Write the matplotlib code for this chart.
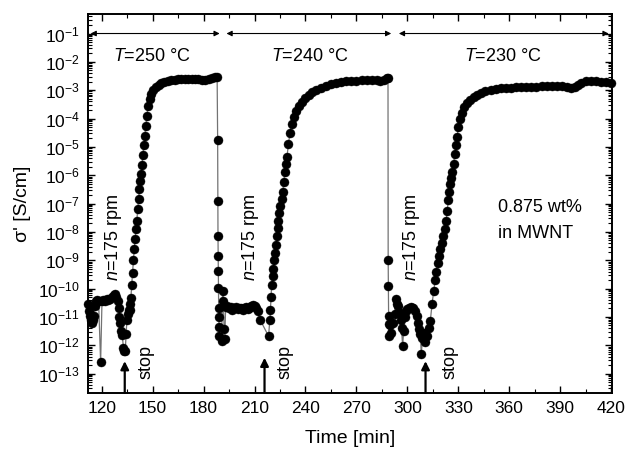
import numpy as np
import matplotlib
matplotlib.use('Agg')
import matplotlib.pyplot as plt
from matplotlib.ticker import MultipleLocator, LogLocator, NullFormatter, LogFormatterSciNotation

plt.rcParams['font.family'] = ['Liberation Sans', 'DejaVu Sans']
plt.rcParams['mathtext.fontset'] = 'custom'
plt.rcParams['mathtext.rm'] = 'Liberation Sans'
plt.rcParams['mathtext.it'] = 'Liberation Sans:italic'

# time [min] and log10(sigma' [S/cm])
# T = 250 C
t_250 = [112.0, 112.6, 113.2, 113.8, 114.4, 115.0, 115.6, 116.2, 116.8, 117.4, 118.2, 119.4,
         120.2, 121.0, 122.0, 123.0, 124.0, 125.0, 126.0, 127.0, 127.8, 128.6, 129.4, 130.0,
         130.5, 131.0, 131.6, 132.2, 132.8, 133.4, 133.9, 134.4, 134.9, 135.4, 135.9, 136.4,
         136.8, 137.2, 137.7, 138.2, 138.7, 139.2, 139.7, 140.2, 140.7, 141.2, 141.7, 142.2,
         142.7, 143.2, 143.7, 144.2, 144.8, 145.4, 146.0, 146.6, 147.3, 148.2, 149.3, 150.5,
         152.0, 153.5, 155.0, 157.0, 159.0, 161.0, 163.0, 165.0, 167.0, 169.0, 171.0, 173.0,
         175.0, 177.0, 179.0, 181.0, 183.0, 185.0, 186.5, 188.0]
lg_250 = [-10.55, -10.8, -10.95, -11.1, -11.2, -11.1, -10.95, -10.6, -10.45, -10.4, -10.45, -12.6,
          -10.45, -10.4, -10.42, -10.38, -10.4, -10.35, -10.3, -10.22, -10.2, -10.3, -10.45, -10.7,
          -11.0, -11.2, -11.5, -11.65, -12.1, -12.2, -12.2, -11.6, -11.1, -10.9, -10.75, -10.55,
          -10.74, -10.32, -9.86, -9.44, -9.0, -8.6, -8.25, -7.9, -7.6, -7.2, -6.85, -6.5,
          -6.2, -5.95, -5.65, -5.3, -4.95, -4.6, -4.25, -3.9, -3.55, -3.3, -3.12, -3.0,
          -2.88, -2.8, -2.74, -2.7, -2.67, -2.65, -2.63, -2.61, -2.6, -2.6, -2.6, -2.6,
          -2.61, -2.62, -2.63, -2.63, -2.62, -2.58, -2.55, -2.55]

# T = 240 C
t_240 = [188.3, 188.4, 188.5, 188.6, 188.7, 188.8, 188.9, 189.0, 189.1, 189.2, 190.6, 191.2,
         191.7, 192.1, 192.5, 193.0, 194.0, 195.0, 196.0, 197.0, 198.0, 199.0, 200.0, 201.0,
         202.0, 203.0, 204.0, 205.0, 206.0, 207.0, 208.0, 209.0, 210.0, 211.0, 212.0, 213.2,
         218.3, 219.0, 219.4, 219.7, 220.1, 220.6, 221.1, 221.6, 222.1, 222.6, 223.1, 223.6,
         224.1, 224.7, 225.3, 226.0, 226.6, 227.2, 227.8, 228.4, 229.1, 230.0, 230.9, 232.0,
         233.2, 234.5, 236.0, 238.0, 240.0, 242.0, 244.0, 246.5, 249.0, 252.0, 255.0, 258.0,
         261.0, 264.0, 267.0, 270.0, 273.0, 276.0, 279.0, 282.0, 284.0, 286.0, 288.0, 288.6]
lg_240 = [-4.75, -6.92, -8.15, -8.86, -9.39, -9.97, -10.67, -11.0, -11.37, -11.68, -11.85, -10.09,
          -10.44, -11.44, -11.79, -10.65, -10.62, -10.7, -10.66, -10.74, -10.7, -10.64, -10.72, -10.68,
          -10.7, -10.76, -10.7, -10.64, -10.72, -10.68, -10.62, -10.58, -10.6, -10.7, -10.78, -11.09,
          -11.68, -11.09, -10.76, -10.31, -9.86, -9.55, -9.3, -9.0, -8.73, -8.45, -8.15, -7.85,
          -7.6, -7.35, -7.1, -6.85, -6.6, -6.25, -5.9, -5.6, -5.35, -4.9, -4.5, -4.2,
          -3.95, -3.75, -3.57, -3.42, -3.28, -3.17, -3.08, -2.98, -2.92, -2.85, -2.78, -2.74,
          -2.71, -2.69, -2.67, -2.66, -2.65, -2.64, -2.64, -2.65, -2.67, -2.63, -2.58, -2.58]

# T = 230 C
t_230 = [288.7, 288.8, 288.9, 289.0, 289.1, 290.0, 290.6, 291.5, 292.5, 293.2, 294.0, 294.6,
         295.4, 296.0, 296.6, 297.2, 297.8, 298.4, 299.2, 300.0, 301.0, 302.0, 302.8, 303.6,
         304.5, 305.4, 306.2, 307.0, 307.6, 308.2, 308.9, 309.6, 310.4, 311.3, 312.5, 313.5,
         314.5, 315.5, 316.3, 317.0, 317.8, 318.6, 319.4, 320.2, 321.0, 322.0, 322.8, 323.5,
         324.1, 324.6, 325.2, 325.8, 326.5, 327.2, 327.9, 328.6, 329.3, 330.0, 331.0, 332.0,
         333.5, 335.0, 337.0, 339.0, 341.0, 343.5, 346.0, 349.0, 352.0, 355.0, 358.0, 361.0,
         364.0, 367.0, 370.0, 373.0, 376.0, 379.0, 382.0, 385.0, 388.0, 391.0, 394.0, 396.5,
         398.5, 400.5, 402.5, 405.0, 408.0, 411.0, 414.0, 417.0, 420.0]
lg_230 = [-8.98, -9.9, -10.97, -11.26, -11.68, -11.3, -11.55, -11.2, -10.9, -10.38, -10.55, -10.62,
          -10.85, -11.1, -11.4, -12.03, -11.5, -11.0, -10.8, -10.72, -10.68, -10.66, -10.67, -10.7,
          -10.8, -10.97, -11.2, -11.44, -11.6, -12.32, -11.75, -11.55, -11.9, -11.68, -11.4, -11.15,
          -10.56, -10.1, -9.7, -9.4, -9.1, -8.86, -8.6, -8.39, -8.15, -7.9, -7.6, -7.25,
          -6.86, -6.6, -6.3, -6.1, -5.9, -5.6, -5.25, -4.95, -4.65, -4.3, -4.0, -3.8,
          -3.6, -3.46, -3.33, -3.23, -3.16, -3.09, -3.03, -2.99, -2.96, -2.94, -2.93, -2.91,
          -2.9, -2.89, -2.88, -2.87, -2.87, -2.86, -2.86, -2.85, -2.85, -2.86, -2.88, -2.92,
          -2.9, -2.8, -2.73, -2.69, -2.67, -2.68, -2.7, -2.71, -2.73]

# temperature intervals (double arrows at the top)
temp_labels = ['250', '240', '230']
temp_spans = [(113.5, 189.5), (193.5, 290.5), (295.0, 418.5)]
temp_label_x = [149.5, 242.5, 356.5]

# stirring stopped
stop_t = [133.6, 215.9, 310.7]
stop_tip = [-12.56, -12.44, -12.56]
stop_label_x = [146.0, 228.0, 325.0]
rpm_label_x = [127.0, 207.4, 302.5]


def draw(nome):
    fig = plt.figure(figsize=(6.29, 4.5), dpi=100)
    ax = fig.add_axes([0.140, 0.127, 0.833, 0.842])

    t = np.array(t_250 + t_240 + t_230)
    s = 10.0 ** np.array(lg_250 + lg_240 + lg_230)

    ax.plot(t, s, '-', color='0.45', lw=0.9, zorder=2, clip_on=False)
    ax.plot(t, s, 'o', color='k', ms=6.5, mec='k', mew=0.3, zorder=3, clip_on=False)

    ax.set_yscale('log')
    ax.set_xlim(112, 420.5)
    ax.set_ylim(2.1e-14, 0.49)

    ax.xaxis.set_major_locator(MultipleLocator(30))
    ax.xaxis.set_minor_locator(MultipleLocator(15))
    ax.yaxis.set_major_locator(LogLocator(base=10, numticks=30))
    ax.yaxis.set_minor_locator(LogLocator(base=10, subs=np.arange(2, 10), numticks=30))
    ax.yaxis.set_major_formatter(LogFormatterSciNotation())
    ax.yaxis.set_minor_formatter(NullFormatter())

    ax.tick_params(which='both', direction='in', top=True, right=True, labelsize=12.5)
    ax.tick_params(which='major', length=5, width=1, pad=6)
    ax.tick_params(which='minor', length=3, width=0.8)
    for sp in ax.spines.values():
        sp.set_linewidth(1.4)

    ax.set_xlabel('Time [min]', fontsize=14, labelpad=10)
    ax.set_ylabel("σ' [S/cm]", fontsize=14, labelpad=5)

    # temperature intervals
    for lab, span, xl in zip(temp_labels, temp_spans, temp_label_x):
        ax.annotate('', xy=(span[0], 0.1), xytext=(span[1], 0.1),
                    arrowprops=dict(arrowstyle='<|-|>', color='k', lw=0.8,
                                    mutation_scale=8, shrinkA=0, shrinkB=0))
        ax.text(xl, 1.5e-2, '$\\mathit{T}$=' + lab + ' °C', fontsize=13,
                ha='center', va='center')

    # stirring at 175 rpm, then stop
    for ts, tip, xs, xr in zip(stop_t, stop_tip, stop_label_x, rpm_label_x):
        ax.annotate('', xy=(ts, 10.0 ** tip), xytext=(ts, 2.1e-14),
                    arrowprops=dict(arrowstyle='-|>', color='k', lw=1.6,
                                    mutation_scale=12, shrinkA=0, shrinkB=0))
        ax.text(xs, 10.0 ** -12.6, 'stop', fontsize=13, rotation=90,
                ha='center', va='center')
        ax.text(xr, 10.0 ** -8.2, '$\\mathit{n}$=175 rpm', fontsize=13, rotation=90,
                ha='center', va='center')

    ax.text(353.3, 10.0 ** -7.14, '0.875 wt%', fontsize=13, ha='left', va='center')
    ax.text(353.3, 10.0 ** -8.06, 'in MWNT', fontsize=13, ha='left', va='center')

    fig.savefig(nome, dpi=100, facecolor='w')
    plt.close(fig)


if __name__ == '__main__':
    draw('out.png')
